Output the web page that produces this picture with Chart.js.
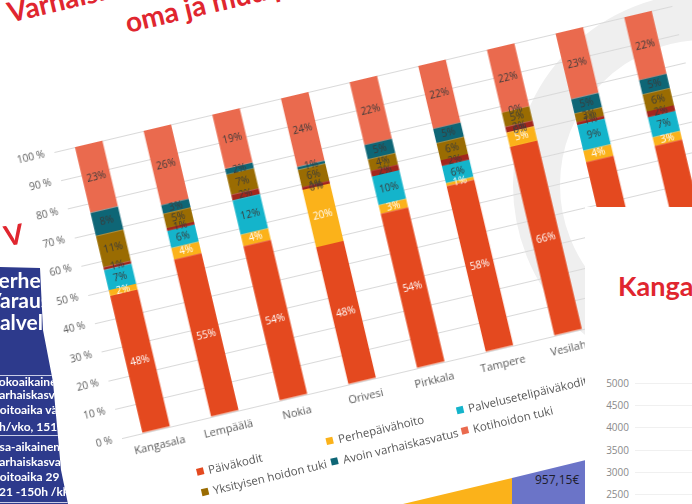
<!DOCTYPE html>
<html>
<head>
<meta charset="utf-8">
<script src="https://cdn.jsdelivr.net/npm/chart.js@4.4.0/dist/chart.umd.min.js"></script>
<style>
  html, body { margin: 0; padding: 0; background: #fff; }
  body { width: 692px; height: 504px; position: relative; overflow: hidden; font-family: "Open Sans", sans-serif; }
  .ring { position: absolute; left: 513px; top: -7px; width: 384px; height: 384px; border-radius: 50%;
          box-sizing: border-box; border: 47px solid #efefef; z-index: 1; }
  .card { position: absolute; left: 50.7px; top: 120px; width: 720px; height: 440px;
          transform-origin: 105.3px 310px; transform: rotate(-13.3deg); z-index: 2; }
  .card canvas { position: absolute; left: 0; top: 0; }
  .title { position: absolute; color: #e0262f; font-family: Lato, sans-serif; font-weight: bold; font-size: 28px; white-space: nowrap; line-height: 1; }
  .legend { position: absolute; left: 0; top: 0; width: 720px; height: 440px; }
  .legend div { position: absolute; font-size: 11.5px; color: #595959; white-space: nowrap; line-height: 14px; }
  .legend span { display: inline-block; width: 7px; height: 7px; margin-right: 5px; vertical-align: 1px; }
  .blue { position: absolute; left: 0; top: 260px; width: 80px; height: 244px; background: #2d3a8c; z-index: 3;
          clip-path: polygon(0 7px, 40px 8px, 43px 70px, 53px 122px, 61px 210px, 68px 244px, 0 244px);
          color: #fff; font-family: Lato, sans-serif; font-weight: bold; }
  .blue div { position: absolute; white-space: nowrap; }
  .blue .big { font-size: 21px; line-height: 21px; }
  .blue .small { font-size: 12px; line-height: 14px; }
  .blue .sep { height: 1px; background: #c9cde6; left: 0; width: 80px; }
  .redv { position: absolute; left: 4px; top: 217px; color: #e0262f; font-family: Lato, sans-serif; font-weight: bold; font-size: 28px; transform: rotate(-10deg); z-index: 3; }
  .yellow { position: absolute; left: 400px; top: 470px; width: 120px; height: 34px; background: #fbb21a; z-index: 3;
            clip-path: polygon(3px 34px, 112px 8px, 112px 34px); }
  .lav { position: absolute; left: 512px; top: 455px; width: 80px; height: 49px; background: #6b74c8; z-index: 3;
         clip-path: polygon(0 23px, 78px 4px, 80px 49px, 0 49px); font-size: 12px; color: #1d1d2b; }
  .panel { position: absolute; left: 585px; top: 207px; width: 107px; height: 297px; background: #fff; z-index: 4; }
  .panel .head { position: absolute; left: 33px; top: 62px; color: #e0262f; font-family: Lato, sans-serif; font-weight: bold; font-size: 27px; white-space: nowrap; }
  .panel .tick { position: absolute; left: 16px; width: 28px; text-align: right; font-size: 10px; color: #8a8a8a; line-height: 12px; }
  .panel .grid { position: absolute; left: 50px; width: 60px; height: 1px; background: #f0f0f0; }
</style>
</head>
<body>
<script>
const municipalities = ['Kangasala', 'Lempäälä', 'Nokia', 'Orivesi', 'Pirkkala', 'Tampere', 'Vesilahti', 'Ylöjärvi', 'Yhteensä'];
const paivakodit = [48, 55, 54, 48, 54, 58, 66, 55, 55];
const perhepaivahoito = [2, 4, 4, 20, 3, 1, 5, 4, 3];
const palvelusetelipaivakodit = [7, 6, 12, 0, 10, 6, 0, 9, 7];
const palveluseteliperhepaivahoito = [1, 1, 2, 1, 2, 2, 2, 1, 2];
const yksityisenHoidonTuki = [11, 5, 7, 6, 4, 6, 5, 3, 6];
const avoinVarhaiskasvatus = [8, 3, 2, 1, 5, 5, 0, 5, 5];
const kotihoidonTuki = [23, 26, 19, 24, 22, 22, 22, 23, 22];
const yTicks = [0, 10, 20, 30, 40, 50, 60, 70, 80, 90, 100];
const otherChartTicks = ['5000', '4500', '4000', '3500', '3000', '2500'];
</script>

<div class="ring"></div>

<div class="card" id="card">
  <div class="title" style="left:57px;top:-145px;">Varhaiskasvatuksen palvelurakenne 2019 –</div>
  <div class="title" style="left:169px;top:-108px;">oma ja muu palvelutuotanto</div>
  <canvas id="chart" width="720" height="360"></canvas>
  <div class="legend" id="legend"></div>
</div>

<div class="redv">V</div>
<div class="blue">
  <div class="big" style="left:-14px;top:9px;">Perheille</div>
  <div class="big" style="left:-13px;top:29px;">Varausta</div>
  <div class="big" style="left:-12px;top:51px;">palvelu</div>
  <div class="sep" style="top:115px;"></div>
  <div class="small" style="left:-9px;top:115px;">Kokoaikainen</div>
  <div class="small" style="left:-7px;top:128px;">varhaiskasvatus</div>
  <div class="small" style="left:-7px;top:143px;">hoitoaika väh.</div>
  <div class="small" style="left:-15px;top:160px;">35h/vko, 151h/kk</div>
  <div class="sep" style="top:175px;"></div>
  <div class="small" style="left:-10px;top:180px;">Osa-aikainen</div>
  <div class="small" style="left:-7px;top:195px;">varhaiskasvatus</div>
  <div class="small" style="left:-7px;top:210px;">hoitoaika 29 -34h/vko</div>
  <div class="small" style="left:-8px;top:225px;">121 -150h /kk</div>
  <div class="sep" style="top:242px;"></div>
</div>
<div class="yellow"></div>
<div class="lav"><div style="position:absolute;left:23px;top:16px;">957,15€</div></div>

<div class="panel" id="panel">
  <div class="head">Kangasala</div>
</div>

<script>
const colors = ['#e4491f', '#fbb21a', '#14b4cb', '#a3261d', '#9a6c02', '#0e6676', '#ea6a4e'];
const names = ['Päiväkodit', 'Perhepäivähoito', 'Palvelusetelipäiväkodit', 'Palveluseteliperhepäivähoito',
  'Yksityisen hoidon tuki', 'Avoin varhaiskasvatus', 'Kotihoidon tuki'];
const series = [paivakodit, perhepaivahoito, palvelusetelipaivakodit, palveluseteliperhepaivahoito,
  yksityisenHoidonTuki, avoinVarhaiskasvatus, kotihoidonTuki];

const segmentLabels = {
  id: 'segmentLabels',
  afterDatasetsDraw(chart) {
    const ctx = chart.ctx;
    ctx.save();
    ctx.font = '10px "Open Sans"';
    ctx.textAlign = 'center';
    ctx.textBaseline = 'middle';
    chart.data.datasets.forEach((ds, i) => {
      chart.getDatasetMeta(i).data.forEach((bar, j) => {
        ctx.fillStyle = i < 2 ? '#ffffff' : '#3a3a3a';
        ctx.fillText(ds.data[j] + '%', bar.x, (bar.y + bar.base) / 2);
      });
    });
    ctx.restore();
  }
};

new Chart(document.getElementById('chart'), {
  type: 'bar',
  data: {
    labels: municipalities,
    datasets: series.map((d, i) => ({
      label: names[i],
      data: d,
      backgroundColor: colors[i],
      borderWidth: 0,
      barPercentage: 0.4,
      categoryPercentage: 1
    }))
  },
  options: {
    responsive: false,
    devicePixelRatio: 1,
    animation: false,
    layout: { padding: { left: 10, top: 15, right: 15, bottom: 0 } },
    plugins: { legend: { display: false }, tooltip: { enabled: false } },
    scales: {
      x: {
        stacked: true,
        grid: { display: false, drawTicks: false },
        border: { display: false },
        ticks: { color: '#595959', font: { family: 'Open Sans', size: 11 }, padding: 9, maxRotation: 0, autoSkip: false },
        afterFit: (s) => { s.height = 50; }
      },
      y: {
        stacked: true,
        min: 0,
        max: 100,
        afterBuildTicks: (s) => { s.ticks = yTicks.map((v) => ({ value: v })); },
        grid: { color: '#d9d9d9', drawTicks: false },
        border: { display: false },
        ticks: { color: '#595959', font: { family: 'Open Sans', size: 10 }, padding: 10, callback: (v) => v + ' %' },
        afterFit: (s) => { s.width = 60; }
      }
    }
  },
  plugins: [segmentLabels]
});

// legend in a fixed grid, like the original slide
const legend = document.getElementById('legend');
names.forEach((n, i) => {
  const row = i < 4 ? 0 : 1;
  const col = i < 4 ? i : i - 4;
  const el = document.createElement('div');
  el.style.left = (134.8 + col * 133.5) + 'px';
  el.style.top = (354 + row * 21) + 'px';
  el.innerHTML = '<span style="background:' + colors[i] + '"></span>' + n;
  legend.appendChild(el);
});

// axis of the next slide's chart, partly visible
const panel = document.getElementById('panel');
otherChartTicks.forEach((t, i) => {
  const y = 176 + i * 22.2;
  const lab = document.createElement('div');
  lab.className = 'tick';
  lab.style.top = (y - 6) + 'px';
  lab.textContent = t;
  panel.appendChild(lab);
  const g = document.createElement('div');
  g.className = 'grid';
  g.style.top = y + 'px';
  panel.appendChild(g);
});
</script>
</body>
</html>
